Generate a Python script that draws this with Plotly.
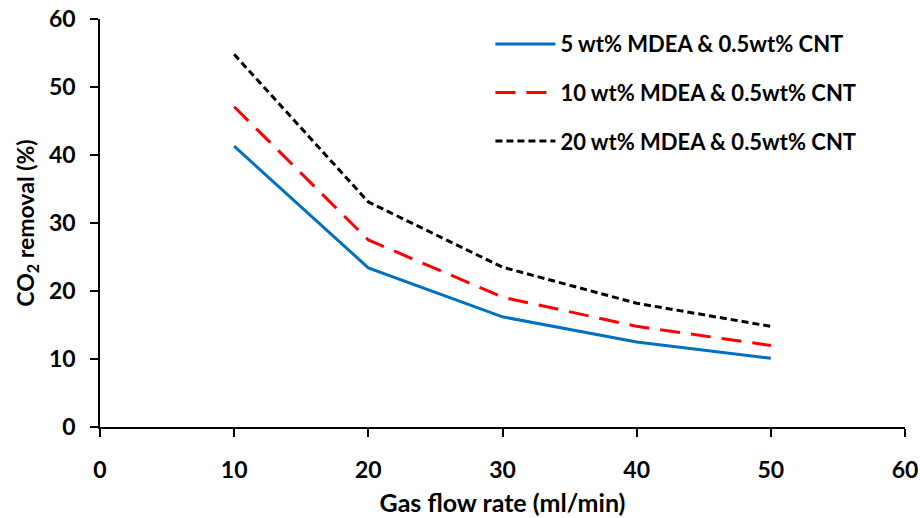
import plotly.graph_objects as go

flow_rate = [10, 20, 30, 40, 50]
mdea5 = [41.3, 23.4, 16.2, 12.5, 10.1]
mdea10 = [47.1, 27.5, 19.1, 14.8, 12.0]
mdea20 = [54.8, 33.1, 23.5, 18.2, 14.8]
names = ["5 wt% MDEA & 0.5wt% CNT", "10 wt% MDEA & 0.5wt% CNT", "20 wt% MDEA & 0.5wt% CNT"]
x_ticks = [0, 10, 20, 30, 40, 50, 60]
y_ticks = [0, 10, 20, 30, 40, 50, 60]

FONT = "Lato"
fig = go.Figure()
fig.add_trace(go.Scatter(x=flow_rate, y=mdea5, mode="lines", name=names[0], legendgroup="a",
                         line=dict(color="#0070C0", width=3)))
fig.add_trace(go.Scatter(x=flow_rate, y=mdea10, mode="lines", name=names[1], legendgroup="b",
                         line=dict(color="#FF0000", width=3, dash="20px,11px")))
fig.add_trace(go.Scatter(x=flow_rate, y=mdea20, mode="lines", name=names[2], legendgroup="c",
                         line=dict(color="#000000", width=3, dash="7px,4px")))

axis_common = dict(showline=True, linecolor="black", linewidth=1.5, ticks="outside",
                   ticklen=8, tickwidth=1.5, tickcolor="black", showgrid=False, zeroline=False,
                   automargin=False, ticklabeloverflow="allow",
                   tickfont=dict(family=FONT, size=23, color="black", weight="bold"))
fig.update_xaxes(range=[0, 60], tickvals=x_ticks, ticklabelstandoff=14,
                 title=dict(text="<b>Gas flow rate (ml/min)</b>", font=dict(family=FONT, size=25, color="black"), standoff=12),
                 **axis_common)
fig.update_yaxes(range=[0, 60], tickvals=y_ticks, ticklabelstandoff=10,
                 title=dict(text="<b>CO<sub>2</sub> removal (%)</b>", font=dict(family=FONT, size=23, color="black"), standoff=8),
                 **axis_common)

fig.update_layout(
    width=920, height=518,
    margin=dict(l=100, r=15, t=19, b=91),
    plot_bgcolor="white", paper_bgcolor="white",
    legend=dict(x=0.485, y=0.99, xanchor="left", yanchor="top", tracegroupgap=17, itemwidth=60,
                font=dict(family=FONT, size=22, color="black", weight="bold"),
                bgcolor="rgba(0,0,0,0)"),
)
fig.write_html("out.html", config={"displayModeBar": False},
               post_script="document.body.style.margin='0';")
